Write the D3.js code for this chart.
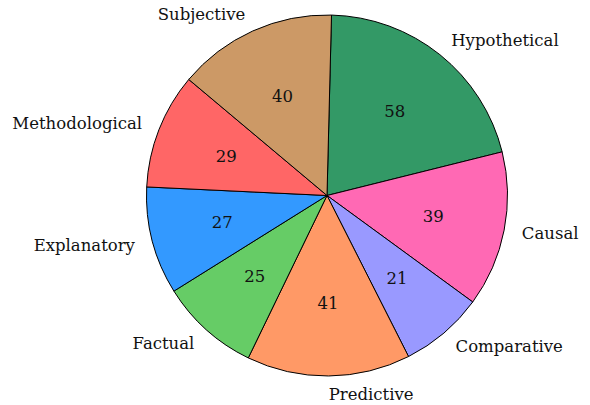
<!DOCTYPE html>
<html>
<head>
<meta charset="utf-8">
<script src="https://cdn.jsdelivr.net/npm/d3@7"></script>
<style>
  body { margin: 0; background: #fff; }
  text { font-family: "DejaVu Serif", "Liberation Serif", serif; fill: #111; }
</style>
</head>
<body>
<div id="chart"></div>
<script>
const categories = ["Hypothetical", "Causal", "Comparative", "Predictive", "Factual", "Explanatory", "Methodological", "Subjective"];
const values = [58, 39, 21, 41, 25, 27, 29, 40];
const colors = ["#339966", "#ff69b4", "#9999ff", "#ff9966", "#66cc66", "#3399ff", "#ff6666", "#cc9966"];

const width = 590, height = 405;
const cx = 327, cy = 195.5, r = 180.5;
const startOffset = 0.025; // pie starts a hair right of 12 o'clock

const data = categories.map((c, i) => ({ label: c, value: values[i], color: colors[i] }));

const svg = d3.select("#chart").append("svg")
    .attr("width", width)
    .attr("height", height);

const g = svg.append("g")
    .attr("transform", "translate(" + cx + "," + cy + ")");

const pie = d3.pie()
    .value(d => d.value)
    .sort(null)
    .startAngle(startOffset)
    .endAngle(startOffset + 2 * Math.PI);

const arcs = pie(data);

const arc = d3.arc().innerRadius(0).outerRadius(r);

g.selectAll("path.slice")
    .data(arcs)
    .enter().append("path")
    .attr("class", "slice")
    .attr("d", arc)
    .attr("fill", d => d.data.color)
    .attr("stroke", "#000")
    .attr("stroke-width", 1)
    .attr("stroke-linejoin", "round");

const mid = d => (d.startAngle + d.endAngle) / 2;

// value labels at 0.6 r
g.selectAll("text.value")
    .data(arcs)
    .enter().append("text")
    .attr("class", "value")
    .attr("x", d => 0.6 * r * Math.sin(mid(d)))
    .attr("y", d => -0.6 * r * Math.cos(mid(d)))
    .attr("text-anchor", "middle")
    .attr("dominant-baseline", "central")
    .attr("font-size", 16.5)
    .text(d => d.data.value);

// category labels at 1.1 r
g.selectAll("text.label")
    .data(arcs)
    .enter().append("text")
    .attr("class", "label")
    .attr("x", d => 1.1 * r * Math.sin(mid(d)))
    .attr("y", d => -1.1 * r * Math.cos(mid(d)))
    .attr("text-anchor", d => Math.sin(mid(d)) > 0 ? "start" : "end")
    .attr("dominant-baseline", "central")
    .attr("font-size", 16.5)
    .text(d => d.data.label);
</script>
</body>
</html>
